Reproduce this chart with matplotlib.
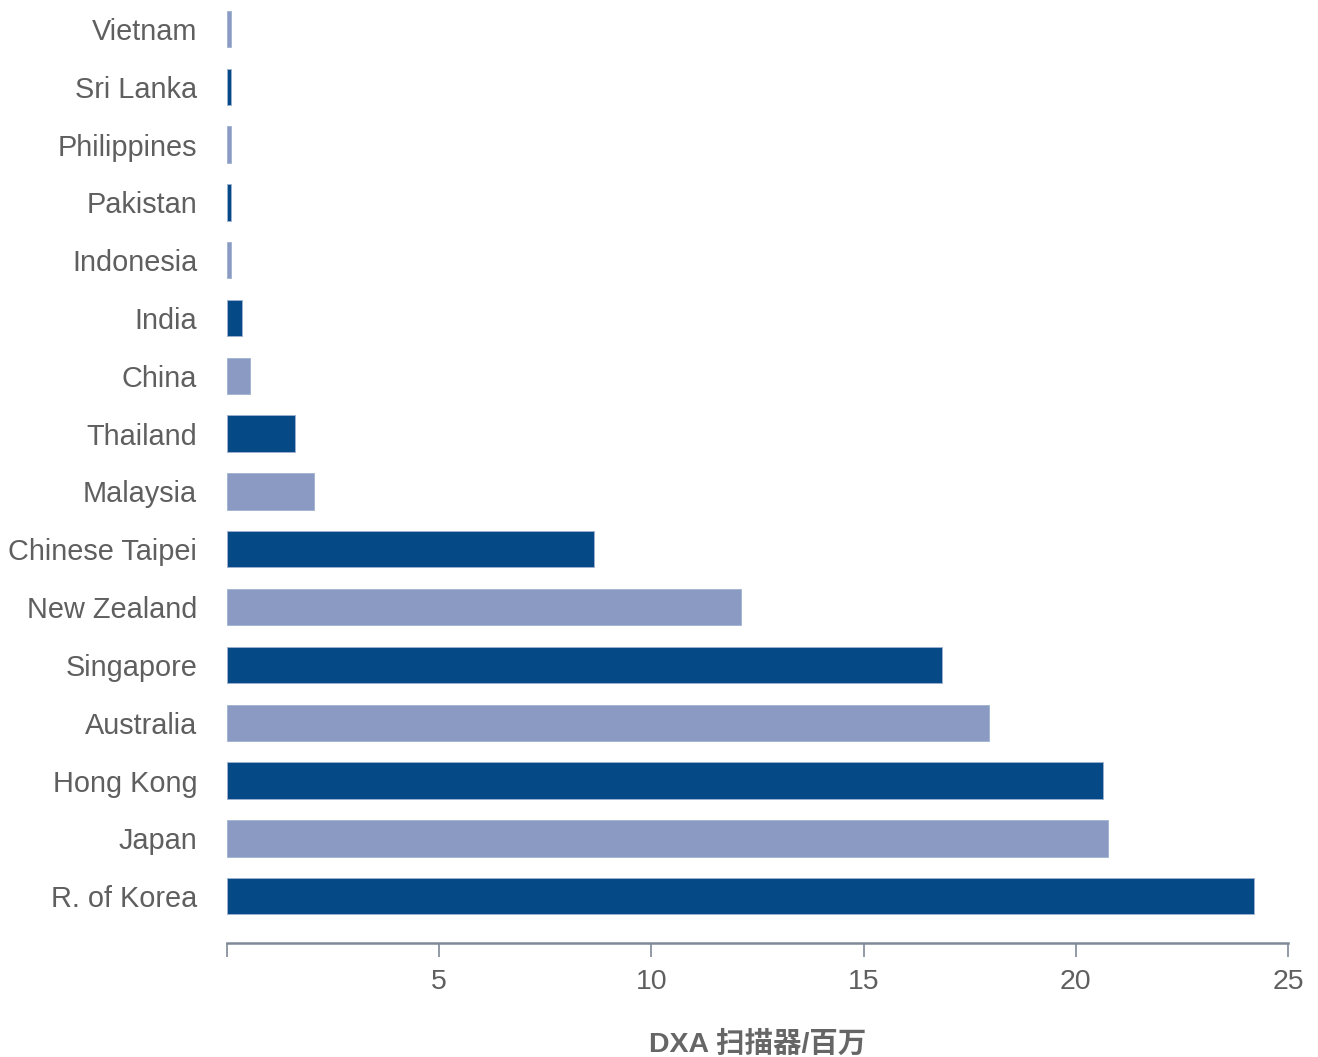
import matplotlib.pyplot as plt

countries = ['R. of Korea', 'Japan', 'Hong Kong', 'Australia', 'Singapore',
             'New Zealand', 'Chinese Taipei', 'Malaysia', 'Thailand', 'China',
             'India', 'Indonesia', 'Pakistan', 'Philippines', 'Sri Lanka', 'Vietnam']
scanners = [24.2, 20.75, 20.65, 17.95, 16.85, 12.1, 8.65, 2.05, 1.6, 0.55,
            0.35, 0.1, 0.1, 0.1, 0.1, 0.1]
xticks = [5, 10, 15, 20, 25]

dark = '#054a86'
light = '#8a9ac2'
colors = [dark if i % 2 == 0 else light for i in range(len(countries))]

plt.rcParams['font.family'] = ['Liberation Sans', 'Noto Sans CJK SC', 'DejaVu Sans']

fig = plt.figure(figsize=(13.18, 10.57), dpi=100)
ax = fig.add_axes([227 / 1318, 114 / 1057, (1288 - 227) / 1318, 943 / 1057])

ax.barh(range(len(countries)), scanners, height=0.63, color=colors,
        edgecolor='#9fb2d0', linewidth=0.6)

ax.set_xlim(0, 25)
ax.set_ylim(-0.81, 15.5)
ax.set_yticks(range(len(countries)))
ax.set_yticklabels(countries, fontsize=20.8, color='#5f5f5f')
ax.tick_params(axis='y', length=0, pad=21.5)

ax.set_xticks([0] + xticks)
ax.set_xticklabels([''] + [str(t) for t in xticks], fontsize=20.5, color='#5f5f5f')
ax.tick_params(axis='x', length=10, width=1.2, color='#7f8a96', pad=9)

for s in ['top', 'right', 'left']:
    ax.spines[s].set_visible(False)
ax.spines['bottom'].set_color('#7f8a96')
ax.spines['bottom'].set_linewidth(1.8)

ax.set_xlabel('DXA 扫描器/百万', fontsize=20.5, fontweight='bold', color='#666666',
              labelpad=25)

fig.savefig('out.png', dpi=100)
